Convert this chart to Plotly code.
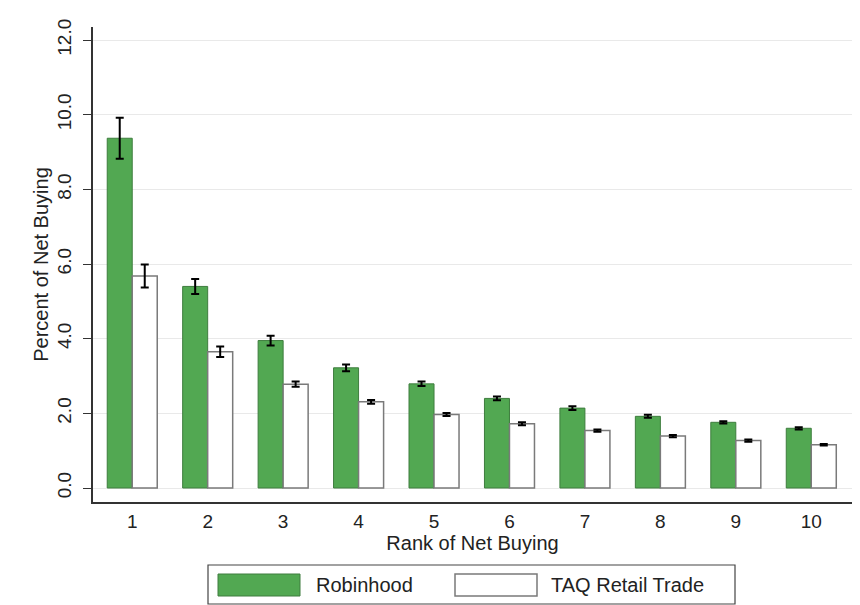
import plotly.graph_objects as go

ranks = [1, 2, 3, 4, 5, 6, 7, 8, 9, 10]
robinhood_name = "Robinhood"
taq_name = "TAQ Retail Trade"
robinhood = [9.37, 5.40, 3.95, 3.22, 2.79, 2.40, 2.14, 1.92, 1.76, 1.60]
robinhood_err = [0.55, 0.20, 0.13, 0.09, 0.06, 0.05, 0.05, 0.04, 0.03, 0.03]
taq = [5.68, 3.65, 2.78, 2.31, 1.97, 1.72, 1.54, 1.39, 1.27, 1.16]
taq_err = [0.31, 0.14, 0.07, 0.05, 0.04, 0.04, 0.03, 0.03, 0.03, 0.02]
y_ticks = [0, 2, 4, 6, 8, 10, 12]
y_tick_labels = ["0.0", "2.0", "4.0", "6.0", "8.0", "10.0", "12.0"]

GREEN = "#52a852"
FONT = "Liberation Sans, Arial, sans-serif"

fig = go.Figure()
fig.add_trace(go.Bar(
    x=ranks, y=robinhood, name=robinhood_name,
    marker=dict(color=GREEN, line=dict(color="#3e7d3e", width=1)),
    error_y=dict(type="data", array=robinhood_err, color="black", thickness=2, width=4),
))
fig.add_trace(go.Bar(
    x=ranks, y=taq, name=taq_name,
    marker=dict(color="white", line=dict(color="#7a7a7a", width=1.5)),
    error_y=dict(type="data", array=taq_err, color="black", thickness=2, width=4),
))

W, H = 860, 605
L, R, T, B = 93, 8, 27, 103
pw, ph = W - L - R, H - T - B

def px(x):
    return (x - L) / pw

def py(y):
    return (H - B - y) / ph

# custom Stata-style legend
shapes = [
    dict(type="rect", xref="paper", yref="paper", x0=px(208), x1=px(735), y0=py(604), y1=py(565),
         line=dict(color="#444", width=1.2), fillcolor="white"),
    dict(type="rect", xref="paper", yref="paper", x0=px(218), x1=px(300), y0=py(596), y1=py(574),
         line=dict(color="#3e7d3e", width=1), fillcolor=GREEN),
    dict(type="rect", xref="paper", yref="paper", x0=px(455), x1=px(537), y0=py(596), y1=py(574),
         line=dict(color="#7a7a7a", width=1.5), fillcolor="white"),
]
annotations = [
    dict(text=robinhood_name, xref="paper", yref="paper", x=px(314), y=py(585), xanchor="left",
         yanchor="middle", showarrow=False, font=dict(size=20, color="#222", family=FONT)),
    dict(text=taq_name, xref="paper", yref="paper", x=px(549), y=py(585), xanchor="left",
         yanchor="middle", showarrow=False, font=dict(size=20, color="#222", family=FONT)),
]

fig.update_layout(
    width=W, height=H,
    margin=dict(l=L, r=R, t=T, b=B, pad=0),
    paper_bgcolor="white", plot_bgcolor="white",
    barmode="group", bargap=0.337, bargroupgap=0,
    showlegend=False,
    font=dict(family=FONT, color="#222"),
    shapes=shapes, annotations=annotations,
    xaxis=dict(
        range=[0.48, 10.54], tickvals=ranks, ticktext=[str(r) for r in ranks],
        showline=True, linecolor="#333", linewidth=1.5, showgrid=False, zeroline=False,
        ticks="", tickfont=dict(size=19, family=FONT, color="#222"), ticklabelstandoff=1,
        title=dict(text="Rank of Net Buying", font=dict(size=20, family=FONT, color="#222"), standoff=0),
    ),
    yaxis=dict(
        range=[-0.375, 12.35], tickvals=y_ticks, ticktext=y_tick_labels, tickangle=-90,
        showline=True, linecolor="#333", linewidth=1.5, showgrid=True, gridcolor="#e9e9e9",
        gridwidth=1, zeroline=False, ticks="outside", ticklen=8, tickcolor="#333", tickwidth=1.2,
        tickfont=dict(size=19, family=FONT, color="#222"), ticklabelstandoff=5,
        title=dict(text="Percent of Net Buying", font=dict(size=20, family=FONT, color="#222"), standoff=0),
    ),
)

fig.write_html("out.html")
